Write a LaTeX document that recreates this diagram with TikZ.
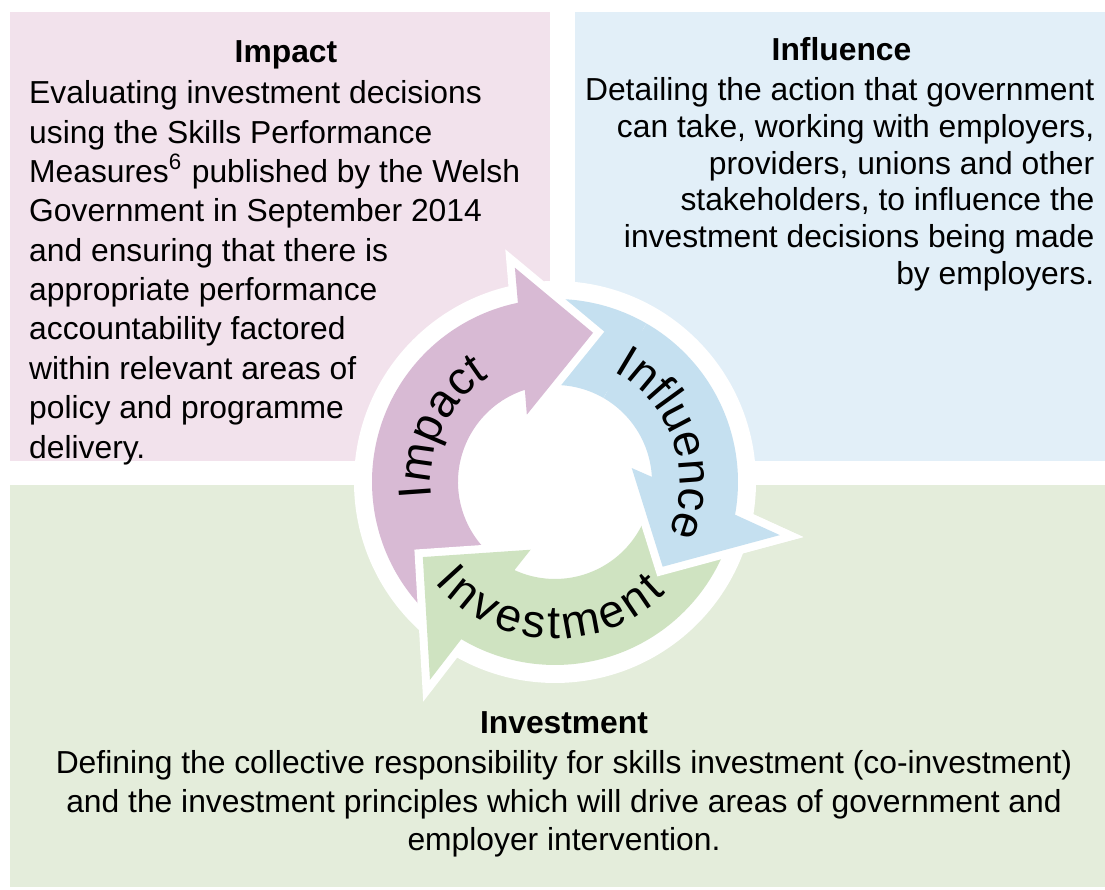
\documentclass[tikz,border=0pt]{standalone}
\usepackage{fontspec}
\setmainfont{Liberation Sans}
\usetikzlibrary{decorations.text}
\definecolor{impactbg}{RGB}{242,226,236}
\definecolor{influencebg}{RGB}{226,239,248}
\definecolor{investbg}{RGB}{228,237,219}
\definecolor{impactarrow}{RGB}{216,186,212}
\definecolor{influencearrow}{RGB}{197,224,240}
\definecolor{investarrow}{RGB}{207,227,193}

\newcommand{\bodyfont}{\fontsize{9.05}{11.2}\selectfont}
\newcommand{\arcfont}{\fontsize{13.2}{16}\selectfont}

% one curved arrow of the cycle, around the origin
% #1 colour, #2 tail angle, #3/#4 outer/inner end of the body,
% #5 outer barb, #6 tip, #7 inner barb
\newcommand{\cyclearrow}[7]{%
  \path[cyclefill=#1] (#2:0.97) -- (#2:1.83)
    arc[start angle=#2, end angle=#3, radius=1.83]
    -- (#5) -- (#6) -- (#7) -- (#4:0.97)
    arc[start angle=#4, end angle=#2, radius=0.97] -- cycle;}

\begin{document}
\begin{tikzpicture}[
  body/.style={font=\bodyfont, inner sep=0pt},
  title/.style={font=\bodyfont\bfseries, inner sep=0pt},
  cyclefill/.style={fill=#1, preaction={draw=white, line width=1.6mm, line join=miter}},
  arclabel/.style={decorate, decoration={text along path, text align=fit to path, text={|\arcfont|#1}}}
]
\useasboundingbox (0,0) rectangle (11.05,8.90);

% the three panels
\fill[impactbg] (0.10,4.29) rectangle (5.50,8.78);
\fill[influencebg] (5.75,4.29) rectangle (11.05,8.78);
\fill[investbg] (0.10,0.03) rectangle (11.05,4.05);

\node[title, anchor=base] (impacttitle) at (2.86,8.275) {Impact};
\node[body, anchor=north west, align=left] (impacttext) at (0.285,8.10)
  {Evaluating investment decisions\\
   using the Skills Performance\\
   Measures\textsuperscript{6} published by the Welsh\\
   Government in September 2014\\
   and ensuring that there is\\
   appropriate performance\\
   accountability factored\\
   within relevant areas of\\
   policy and programme\\
   delivery.};

\node[title, anchor=base] (influencetitle) at (8.415,8.29) {Influence};
\node[body, anchor=north east, align=right, font=\fontsize{9.05}{10.45}\selectfont] (influencetext) at (10.95,8.13)
  {Detailing the action that government\\
   can take, working with employers,\\
   providers, unions and other\\
   stakeholders, to influence the\\
   investment decisions being made\\
   by employers.};

\node[title, anchor=base] (investtitle) at (5.64,1.56) {Investment};
\node[body, anchor=north, align=center, font=\fontsize{9.05}{10.95}\selectfont] (investtext) at (5.64,1.40)
  {Defining the collective responsibility for skills investment (co-investment)\\
   and the investment principles which will drive areas of government and\\
   employer intervention.};

% the cycle
\begin{scope}[shift={(5.55,4.08)}]
  \fill[white] (0,0) circle (2.01);
  \cyclearrow{influencearrow}{96}{-10.3}{3}{-13.3:2.31}{-38.2:1.37}{10.3:0.78}
  \cyclearrow{impactarrow}{230}{101.7}{108.1}{100.6:2.18}{75.7:1.54}{112.7:0.73}
  \cyclearrow{investarrow}{-15}{-120.8}{-114.7}{-122.3:2.34}{-150.4:1.52}{-109.8:0.72}
  % blue head goes back on top of the green tail
  \begin{scope}
    \clip (0,0) -- (-60:2.6) arc[start angle=-60, end angle=60, radius=2.6] -- cycle;
    \cyclearrow{influencearrow}{96}{-10.3}{3}{-13.3:2.31}{-38.2:1.37}{10.3:0.78}
  \end{scope}
  \path[arclabel=Impact] (187:1.24) arc[start angle=187, end angle=122, radius=1.24];
  \path[arclabel=Influence] (62:1.25) arc[start angle=62, end angle=-24, radius=1.25];
  \path[arclabel=Investment] (220:1.57) arc[start angle=220, end angle=315, radius=1.57];
\end{scope}
\end{tikzpicture}
\end{document}
